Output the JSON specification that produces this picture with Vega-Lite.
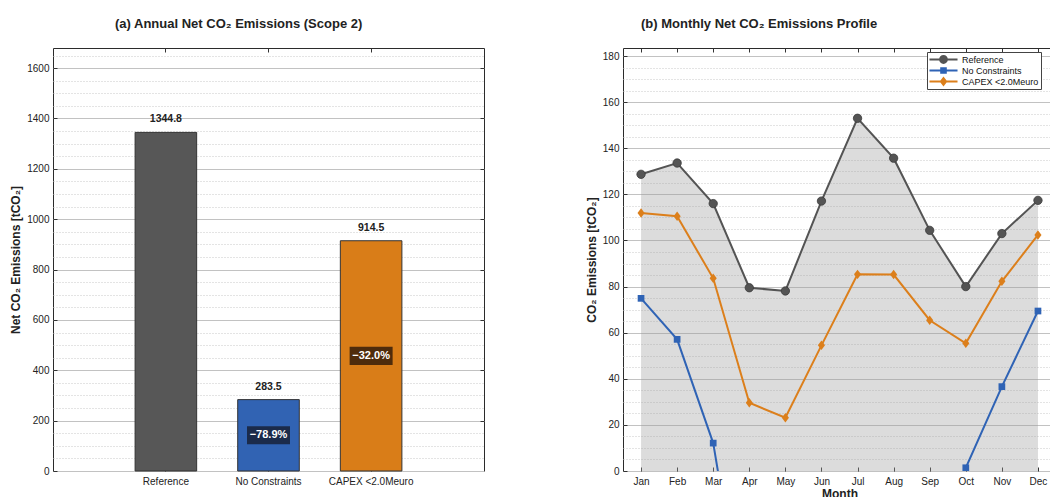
{
  "$schema": "https://vega.github.io/schema/vega-lite/v6.json",
  "background": "white",
  "padding": {"left": 9, "top": 17, "right": 0, "bottom": 0},
  "config": {
    "font": "Liberation Sans",
    "view": {"stroke": "#2b2b2b", "strokeWidth": 1},
    "axis": {"labelFont": "Liberation Sans", "labelFontSize": 10, "labelColor": "#222222", "titleFont": "Liberation Sans", "titleFontSize": 12, "titleFontWeight": "bold", "titleColor": "#222222", "tickColor": "#333333", "domain": false, "gridColor": "#c2c2c2", "gridWidth": 1},
    "title": {"font": "Liberation Sans", "fontSize": 13, "fontWeight": "bold", "color": "#222222"},
    "legend": {"labelFont": "Liberation Sans", "labelFontSize": 9, "labelColor": "#111111"}
  },
  "datasets": {
    "annual": [
      {"scenario": "Reference", "emissions": 1344.8},
      {"scenario": "No Constraints", "emissions": 283.5, "change": "−78.9%"},
      {"scenario": "CAPEX <2.0Meuro", "emissions": 914.5, "change": "−32.0%"}
    ],
    "monthly": [
      {"month": "Jan", "series": "Reference", "value": 128.7},
      {"month": "Feb", "series": "Reference", "value": 133.6},
      {"month": "Mar", "series": "Reference", "value": 116.0},
      {"month": "Apr", "series": "Reference", "value": 79.5},
      {"month": "May", "series": "Reference", "value": 78.1},
      {"month": "Jun", "series": "Reference", "value": 117.1},
      {"month": "Jul", "series": "Reference", "value": 153.0},
      {"month": "Aug", "series": "Reference", "value": 135.7},
      {"month": "Sep", "series": "Reference", "value": 104.4},
      {"month": "Oct", "series": "Reference", "value": 80.0},
      {"month": "Nov", "series": "Reference", "value": 103.0},
      {"month": "Dec", "series": "Reference", "value": 117.4},
      {"month": "Jan", "series": "No Constraints", "value": 74.9},
      {"month": "Feb", "series": "No Constraints", "value": 57.1},
      {"month": "Mar", "series": "No Constraints", "value": 12.1},
      {"month": "Apr", "series": "No Constraints", "value": -81.0},
      {"month": "May", "series": "No Constraints", "value": -95.0},
      {"month": "Jun", "series": "No Constraints", "value": -72.0},
      {"month": "Jul", "series": "No Constraints", "value": -60.0},
      {"month": "Aug", "series": "No Constraints", "value": -62.0},
      {"month": "Sep", "series": "No Constraints", "value": -68.0},
      {"month": "Oct", "series": "No Constraints", "value": 1.4},
      {"month": "Nov", "series": "No Constraints", "value": 36.6},
      {"month": "Dec", "series": "No Constraints", "value": 69.4},
      {"month": "Jan", "series": "CAPEX <2.0Meuro", "value": 111.9},
      {"month": "Feb", "series": "CAPEX <2.0Meuro", "value": 110.5},
      {"month": "Mar", "series": "CAPEX <2.0Meuro", "value": 83.6},
      {"month": "Apr", "series": "CAPEX <2.0Meuro", "value": 29.6},
      {"month": "May", "series": "CAPEX <2.0Meuro", "value": 23.1},
      {"month": "Jun", "series": "CAPEX <2.0Meuro", "value": 54.5},
      {"month": "Jul", "series": "CAPEX <2.0Meuro", "value": 85.3},
      {"month": "Aug", "series": "CAPEX <2.0Meuro", "value": 85.2},
      {"month": "Sep", "series": "CAPEX <2.0Meuro", "value": 65.4},
      {"month": "Oct", "series": "CAPEX <2.0Meuro", "value": 55.4},
      {"month": "Nov", "series": "CAPEX <2.0Meuro", "value": 82.3},
      {"month": "Dec", "series": "CAPEX <2.0Meuro", "value": 102.4}
    ]
  },
  "bounds": "flush",
  "spacing": 139,
  "resolve": {"scale": {"color": "independent", "fill": "independent", "shape": "independent"}, "legend": {"color": "independent", "shape": "independent", "fill": "independent"}},
  "hconcat": [
    {
      "width": 431,
      "height": 423,
      "title": {"text": "(a) Annual Net CO₂ Emissions (Scope 2)", "anchor": "start", "frame": "group", "dx": 62, "offset": 17},
      "data": {"name": "annual"},
      "layer": [
        {
          "mark": {"type": "bar", "stroke": "#333333", "strokeWidth": 1},
          "encoding": {
            "x": {"field": "scenario", "type": "nominal", "sort": null, "scale": {"paddingInner": 0.4, "paddingOuter": 0.8}, "axis": {"orient": "bottom", "title": null, "labelAngle": 0, "tickSize": -4, "labelPadding": 9, "grid": false}},
            "y": {"field": "emissions", "type": "quantitative", "scale": {"domain": [0, 1680], "nice": false}, "axis": {"orient": "left", "values": [0, 200, 400, 600, 800, 1000, 1200, 1400, 1600], "format": "d", "tickSize": -4, "labelPadding": 8, "grid": true, "title": "Net CO₂ Emissions [tCO₂]", "titlePadding": 4}},
            "color": {"field": "scenario", "type": "nominal", "sort": null, "scale": {"domain": ["Reference", "No Constraints", "CAPEX <2.0Meuro"], "range": ["#575757", "#3163b3", "#d97d18"]}, "legend": null}
          }
        },
        {
          "mark": {"type": "text", "dy": -13, "fontWeight": "bold", "fontSize": 10.5, "color": "#222222"},
          "encoding": {
            "x": {"field": "scenario", "type": "nominal", "sort": null, "axis": {"orient": "top", "labels": false, "tickSize": -4, "title": null, "grid": false}},
            "y": {"field": "emissions", "type": "quantitative", "axis": {"orient": "right", "labels": false, "tickSize": -4, "values": [200, 400, 600, 800, 1000, 1200, 1400, 1600], "title": null, "grid": false}},
            "text": {"field": "emissions", "type": "quantitative", "format": ".1f"}
          }
        },
        {
          "transform": [{"filter": "isValid(datum.change)"}, {"calculate": "datum.emissions / 2", "as": "mid"}],
          "mark": {"type": "point", "shape": "M-1,-0.42L1,-0.42L1,0.42L-1,0.42Z", "size": 1849, "filled": true, "opacity": 1, "strokeWidth": 0},
          "encoding": {
            "x": {"field": "scenario", "type": "nominal", "sort": null, "axis": null},
            "y": {"field": "mid", "type": "quantitative", "axis": {"orient": "left", "labels": false, "ticks": false, "grid": true, "gridDash": [1, 2], "gridColor": "#c8c8c8", "values": [50, 100, 150, 250, 300, 350, 450, 500, 550, 650, 700, 750, 850, 900, 950, 1050, 1100, 1150, 1250, 1300, 1350, 1450, 1500, 1550, 1650], "title": null}},
            "fill": {"condition": {"test": "datum.scenario === 'No Constraints'", "value": "#1b2b4b"}, "value": "#4f2c0c"}
          }
        },
        {
          "transform": [{"filter": "isValid(datum.change)"}, {"calculate": "datum.emissions / 2", "as": "mid"}],
          "mark": {"type": "text", "fontWeight": "bold", "fontSize": 11, "color": "white", "baseline": "middle"},
          "encoding": {
            "x": {"field": "scenario", "type": "nominal", "sort": null, "axis": null},
            "y": {"field": "mid", "type": "quantitative", "axis": null},
            "text": {"field": "change"}
          }
        }
      ],
      "resolve": {"axis": {"x": "independent", "y": "independent"}}
    },
    {
      "width": 433,
      "height": 423,
      "title": {"text": "(b) Monthly Net CO₂ Emissions Profile", "anchor": "start", "frame": "group", "dx": 18, "offset": 17},
      "data": {"name": "monthly"},
      "layer": [
        {
          "transform": [{"filter": "datum.series === 'Reference'"}],
          "mark": {"type": "area", "color": "#9a9a9a", "opacity": 0.35},
          "encoding": {
            "x": {"field": "month", "type": "ordinal", "sort": null, "scale": {"type": "point", "padding": 0.5}, "axis": {"orient": "bottom", "title": "Month", "labelAngle": 0, "tickSize": -4, "labelPadding": 9, "titlePadding": 2, "grid": false}},
            "y": {"field": "value", "type": "quantitative", "scale": {"domain": [0, 183.5], "nice": false}, "axis": {"orient": "left", "values": [0, 20, 40, 60, 80, 100, 120, 140, 160, 180], "format": "d", "tickSize": -4, "labelPadding": 8, "grid": true, "title": "CO₂ Emissions [tCO₂]", "titlePadding": 4}}
          }
        },
        {
          "mark": {"type": "line", "strokeWidth": 2, "clip": true},
          "encoding": {
            "x": {"field": "month", "type": "ordinal", "sort": null, "axis": {"orient": "top", "labels": false, "tickSize": -4, "title": null, "grid": false}},
            "y": {"field": "value", "type": "quantitative", "axis": {"orient": "right", "labels": false, "tickSize": -4, "values": [20, 40, 60, 80, 100, 120, 140, 160, 180], "title": null, "grid": false}},
            "color": {"field": "series", "type": "nominal", "scale": {"domain": ["Reference", "No Constraints", "CAPEX <2.0Meuro"], "range": ["#545454", "#2f63b5", "#dc7f1b"]}, "legend": {"orient": "none", "legendX": 304, "legendY": 4, "title": null, "padding": 2, "rowPadding": 0, "strokeColor": "#444444", "fillColor": "white", "symbolSize": 121, "symbolOffset": 9, "labelOffset": 13, "symbolStrokeWidth": 0, "symbolOpacity": 1}}
          }
        },
        {
          "transform": [{"filter": "datum.series === 'Reference'"}],
          "mark": {"type": "point", "shape": "circle", "size": 70, "filled": true, "color": "#545454", "stroke": "#3a3a3a", "strokeWidth": 0.8, "opacity": 1, "clip": true},
          "encoding": {
            "x": {"field": "month", "type": "ordinal", "sort": null, "axis": null},
            "y": {"field": "value", "type": "quantitative", "axis": {"orient": "left", "labels": false, "ticks": false, "grid": true, "gridDash": [1, 2], "gridColor": "#c8c8c8", "values": [5, 10, 15, 25, 30, 35, 45, 50, 55, 65, 70, 75, 85, 90, 95, 105, 110, 115, 125, 130, 135, 145, 150, 155, 165, 170, 175], "title": null}}
          }
        },
        {
          "transform": [{"filter": "datum.series === 'No Constraints'"}],
          "mark": {"type": "point", "shape": "square", "size": 45, "filled": true, "color": "#2f63b5", "opacity": 1, "clip": true},
          "encoding": {
            "x": {"field": "month", "type": "ordinal", "sort": null, "axis": null},
            "y": {"field": "value", "type": "quantitative", "axis": null}
          }
        },
        {
          "transform": [{"filter": "datum.series === 'CAPEX <2.0Meuro'"}],
          "mark": {"type": "point", "shape": "M0,-1L0.75,0L0,1L-0.75,0Z", "size": 90, "filled": true, "color": "#dc7f1b", "opacity": 1, "clip": true},
          "encoding": {
            "x": {"field": "month", "type": "ordinal", "sort": null, "axis": null},
            "y": {"field": "value", "type": "quantitative", "axis": null}
          }
        },
        {
          "mark": {"type": "point", "filled": true, "opacity": 0, "clip": true},
          "encoding": {
            "x": {"field": "month", "type": "ordinal", "sort": null, "axis": null},
            "y": {"field": "value", "type": "quantitative", "axis": null},
            "color": {"field": "series", "type": "nominal", "scale": {"domain": ["Reference", "No Constraints", "CAPEX <2.0Meuro"], "range": ["#545454", "#2f63b5", "#dc7f1b"]}, "legend": {"orient": "none", "legendX": 304, "legendY": 4, "title": null, "padding": 2, "rowPadding": 0, "strokeColor": "#444444", "fillColor": "white", "symbolSize": 121, "symbolOffset": 9, "labelOffset": 13, "symbolStrokeWidth": 0, "symbolOpacity": 1}},
            "shape": {"field": "series", "type": "nominal", "scale": {"domain": ["Reference", "No Constraints", "CAPEX <2.0Meuro"], "range": ["M-2.55,-0.18L2.55,-0.18L2.55,0.18L-2.55,0.18Z M-0.8,0A0.8,0.8 0 1,1 0.8,0A0.8,0.8 0 1,1 -0.8,0Z", "M-2.55,-0.18L2.55,-0.18L2.55,0.18L-2.55,0.18Z M-0.6,-0.6L0.6,-0.6L0.6,0.6L-0.6,0.6Z", "M-2.55,-0.18L2.55,-0.18L2.55,0.18L-2.55,0.18Z M0,-0.9L0.7,0L0,0.9L-0.7,0Z"]}, "legend": {"orient": "none", "legendX": 304, "legendY": 4, "title": null, "padding": 2, "rowPadding": 0, "strokeColor": "#444444", "fillColor": "white", "symbolSize": 121, "symbolOffset": 9, "labelOffset": 13, "symbolStrokeWidth": 0, "symbolOpacity": 1}}
          }
        }
      ],
      "resolve": {"axis": {"x": "independent", "y": "independent"}}
    }
  ]
}
